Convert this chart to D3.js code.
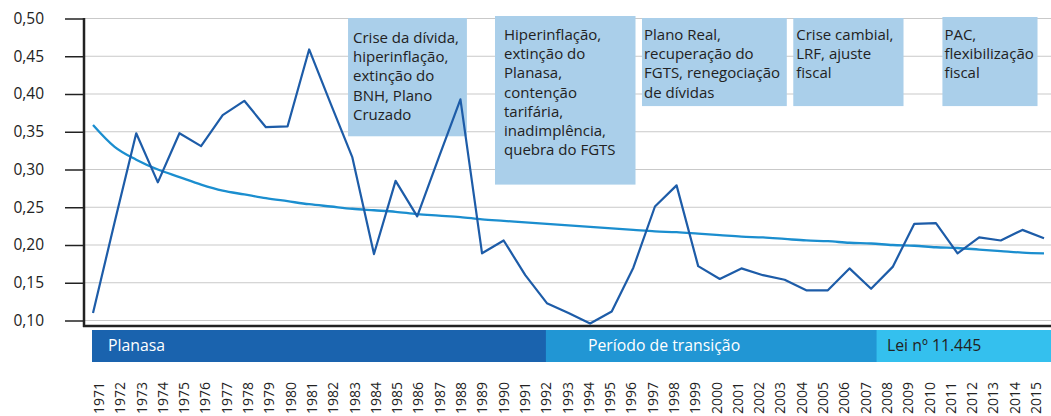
<!DOCTYPE html>
<html>
<head>
<meta charset="utf-8">
<script src="https://cdn.jsdelivr.net/npm/d3@7"></script>
<style>
  body { margin: 0; background: #fff; }
  svg { display: block; font-family: "Open Sans", "Noto Sans", sans-serif; }
</style>
</head>
<body>
<div id="chart"></div>
<script>
// anos da série
var years = d3.range(1971, 2016);

// série principal
var values = [
  0.110, 0.230, 0.348, 0.283, 0.348, 0.331, 0.372, 0.391, 0.356, 0.357,
  0.459, 0.387, 0.316, 0.188, 0.285, 0.238, 0.316, 0.393, 0.189, 0.206,
  0.160, 0.123, 0.110, 0.096, 0.112, 0.170, 0.251, 0.279, 0.172, 0.155,
  0.169, 0.160, 0.154, 0.140, 0.140, 0.169, 0.142, 0.171, 0.228, 0.229,
  0.189, 0.210, 0.206, 0.220, 0.209
];

// linha de tendência
var trend = [
  0.359, 0.330, 0.313, 0.300, 0.290, 0.280, 0.272, 0.267, 0.262, 0.258,
  0.254, 0.251, 0.248, 0.246, 0.244, 0.241, 0.239, 0.237, 0.234, 0.232,
  0.230, 0.228, 0.226, 0.224, 0.222, 0.220, 0.218, 0.217, 0.215, 0.213,
  0.211, 0.210, 0.208, 0.206, 0.205, 0.203, 0.202, 0.200, 0.199, 0.197,
  0.196, 0.194, 0.192, 0.190, 0.189
];

var yTicks = [0.10, 0.15, 0.20, 0.25, 0.30, 0.35, 0.40, 0.45, 0.50];

// períodos da barra inferior
var periodLabels = ["Planasa", "Período de transição", "Lei nº 11.445"];
var periodStart = [1971, 1992, 2007.3];
var periodEnd = [1992, 2007.3, 2015.4];

// anotações
var notes = [
  ["Crise da dívida,", "hiperinflação,", "extinção do", "BNH, Plano", "Cruzado"],
  ["Hiperinflação,", "extinção do", "Planasa,", "contenção", "tarifária,", "inadimplência,", "quebra do FGTS"],
  ["Plano Real,", "recuperação do", "FGTS, renegociação", "de dívidas"],
  ["Crise cambial,", "LRF, ajuste", "fiscal"],
  ["PAC,", "flexibilização", "fiscal"]
];
var noteFrom = [1982.8, 1989.6, 1996.4, 2003.4, 2010.3];
var noteTo = [1988.3, 1996.1, 2003.1, 2008.5, 2014.7];
var noteBottom = [0.344, 0.280, 0.384, 0.384, 0.384];

// layout
var width = 1051, height = 416;
var axisX = 84, axisBottom = 326;
var notePad = [5, 9, 2, 3, 2];
var noteTop = [18, 16, 18, 18, 17];
var noteFirst = [43, 40, 40, 40, 40];

var svg = d3.select("#chart").append("svg")
  .attr("width", width)
  .attr("height", height);

var x = d3.scaleLinear().domain([1971, 2015]).range([93, 1044]);
var xLab = d3.scalePoint().domain(years).range([99, 1036]);
var y = d3.scaleLinear().domain([0.10, 0.50]).range([320.5, 18.5]);

// grade
svg.append("g")
  .selectAll("line")
  .data(yTicks)
  .enter()
  .append("line")
  .attr("x1", axisX)
  .attr("x2", width)
  .attr("y1", function (d) { return y(d); })
  .attr("y2", function (d) { return y(d); })
  .attr("stroke", "#c9c9c9")
  .attr("stroke-width", 1.2);

// eixo y
var yAxis = d3.axisLeft(y)
  .tickValues(yTicks)
  .tickSize(19)
  .tickPadding(21)
  .tickFormat(function (d) { return d3.format(".2f")(d).replace(".", ","); });

var gy = svg.append("g")
  .attr("transform", "translate(" + axisX + ",0)")
  .call(yAxis);
gy.select(".domain").remove();
gy.selectAll(".tick line").attr("stroke", "#222").attr("stroke-width", 1.5);
gy.selectAll(".tick text")
  .attr("font-size", "15.5px")
  .attr("fill", "#222")
  .attr("font-family", "'Open Sans', sans-serif");

svg.append("line")
  .attr("x1", axisX).attr("x2", axisX)
  .attr("y1", 18).attr("y2", axisBottom + 1)
  .attr("stroke", "#222").attr("stroke-width", 2.5);
svg.append("line")
  .attr("x1", axisX - 1).attr("x2", width)
  .attr("y1", axisBottom).attr("y2", axisBottom)
  .attr("stroke", "#222").attr("stroke-width", 2.5);

// caixas de anotação
var noteG = svg.append("g")
  .selectAll("g")
  .data(notes)
  .enter()
  .append("g");

noteG.append("rect")
  .attr("x", function (d, i) { return x(noteFrom[i]); })
  .attr("y", function (d, i) { return noteTop[i]; })
  .attr("width", function (d, i) { return x(noteTo[i]) - x(noteFrom[i]); })
  .attr("height", function (d, i) { return y(noteBottom[i]) - noteTop[i]; })
  .attr("fill", "#aacfea");

noteG.each(function (lines, i) {
  var t = d3.select(this).append("text")
    .attr("font-size", "15px")
    .attr("fill", "#222");
  lines.forEach(function (line, j) {
    t.append("tspan")
      .attr("x", x(noteFrom[i]) + notePad[i])
      .attr("y", noteFirst[i] + j * 19.2)
      .text(line);
  });
});

// tendência
var lineGen = d3.line()
  .x(function (d, i) { return x(years[i]); })
  .y(function (d) { return y(d); });

svg.append("path")
  .datum(trend)
  .attr("d", lineGen.curve(d3.curveMonotoneX))
  .attr("fill", "none")
  .attr("stroke", "#1b8ecf")
  .attr("stroke-width", 2.3);

// série principal
svg.append("path")
  .datum(values)
  .attr("d", lineGen.curve(d3.curveLinear))
  .attr("fill", "none")
  .attr("stroke", "#1d5ca8")
  .attr("stroke-width", 2.2)
  .attr("stroke-linejoin", "round");

// barra de períodos
var periodColors = ["#1a63ae", "#2196d4", "#34c0ee"];
var periodText = ["#fff", "#fff", "#222"];
var periodTextX = [108, 588, 887];

svg.append("g")
  .selectAll("rect")
  .data(periodLabels)
  .enter()
  .append("rect")
  .attr("x", function (d, i) { return x(periodStart[i]) - 1; })
  .attr("y", 330)
  .attr("width", function (d, i) { return Math.min(x(periodEnd[i]), width) - x(periodStart[i]) + 1; })
  .attr("height", 32)
  .attr("fill", function (d, i) { return periodColors[i]; });

svg.append("g")
  .selectAll("text")
  .data(periodLabels)
  .enter()
  .append("text")
  .attr("x", function (d, i) { return periodTextX[i]; })
  .attr("y", 351)
  .attr("font-size", "15.8px")
  .attr("fill", function (d, i) { return periodText[i]; })
  .text(function (d) { return d; });

// rótulos dos anos
svg.append("g")
  .selectAll("text")
  .data(years)
  .enter()
  .append("text")
  .attr("transform", function (d) {
    return "translate(" + (xLab(d) + 5) + ",382) rotate(-90)";
  })
  .attr("text-anchor", "end")
  .attr("font-size", "14px")
  .attr("fill", "#222")
  .text(function (d) { return d; });
</script>
</body>
</html>
